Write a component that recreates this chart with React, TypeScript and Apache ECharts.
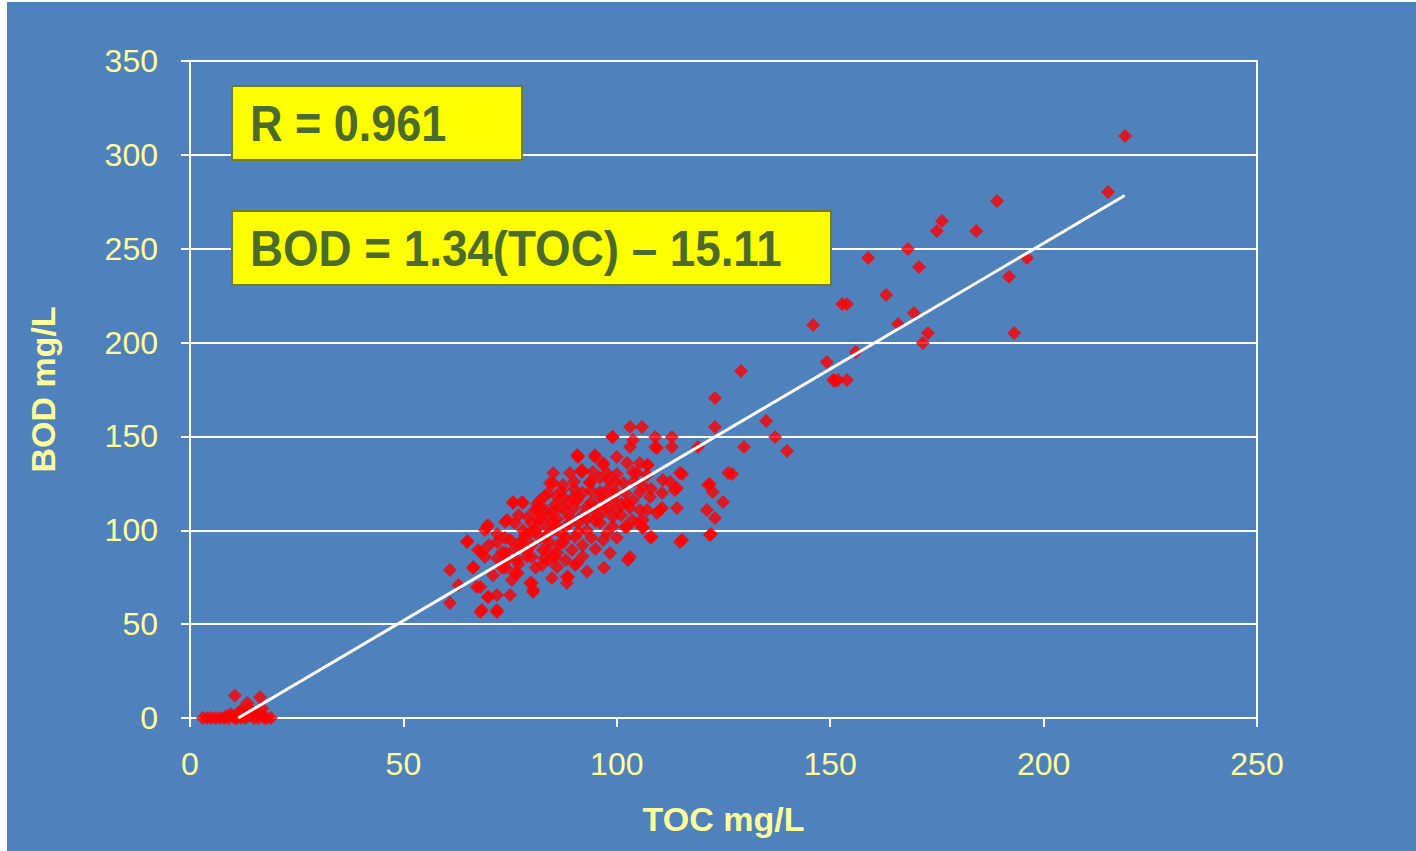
import React, { useEffect, useRef } from "react";
import * as echarts from "echarts";

const xTicks = [0, 50, 100, 150, 200, 250];
const yTicks = [0, 50, 100, 150, 200, 250, 300, 350];
const xAxisTitle = "TOC mg/L";
const yAxisTitle = "BOD mg/L";
const rText = "R = 0.961";
const eqText = "BOD = 1.34(TOC) – 15.11";
const slope = 1.34;
const intercept = -15.11;
const fitX = [11.3, 219];

// [TOC, BOD] pairs
const points: number[][] = [
  [3, 0], [4, 0], [5, 0], [6, 0], [7, 0], [8, 0], [8.5, 1], [9, 0], [9.5, 2], [10, 1], [10.5, 0], [11, 0],
  [11.5, 3], [12, 0], [12.5, 2], [13, 0], [13.4, 8], [14, 1], [14.5, 3], [15, 0], [15.5, 2], [16, 0],
  [16.9, 5], [17, 1], [17.5, 0], [18, 0], [19, 0], [10.5, 12], [16.4, 11], [14, 5], [12, 4],
  [60.9, 78.9], [60.9, 61.3], [62.9, 70.9], [65.0, 94.3], [66.4, 80.4], [67.2, 69.8], [68.0, 56.5],
  [71.9, 56.5], [69.9, 64.5], [71.9, 65.5], [75.0, 65.5], [68.4, 88.4], [69.1, 100.2], [69.8, 102.8],
  [71.9, 93.8], [73.1, 88.4], [74.3, 105.5], [75.7, 115.1], [77.8, 115.1], [74.3, 84.2], [76.8, 77.3],
  [75.4, 73.5], [79.7, 71.9], [80.4, 67.1], [78.0, 91.1], [79.7, 98.6], [81.3, 110.8], [82.0, 105.5],
  [83.6, 101.8], [82.7, 89.5], [84.3, 84.2], [86.0, 80.4], [85.1, 130.5], [84.3, 125.2], [86.7, 112.4],
  [89.0, 130.5], [90.7, 140.1], [91.8, 132.1], [89.0, 103.9], [87.4, 93.2], [88.3, 75.1], [90.7, 82.6],
  [93.7, 125.2], [94.9, 140.1], [96.8, 134.8], [93.0, 112.4], [95.4, 107.1], [96.8, 94.8], [98.4, 87.9],
  [99.1, 149.7], [100.0, 139.1], [102.4, 135.9], [103.1, 155.0], [105.9, 155.0], [103.8, 148.1],
  [109.0, 149.7], [112.9, 149.7], [109.0, 144.4], [112.9, 144.4], [101.5, 125.2], [104.7, 130.5],
  [107.1, 134.8], [100.0, 110.8], [103.8, 116.1], [105.0, 103.9], [106.1, 101.8], [102.4, 101.8],
  [102.6, 84.2], [103.1, 85.8], [108.2, 96.4], [107.1, 110.8], [110.1, 110.8], [112.5, 125.7],
  [113.6, 121.5], [114.8, 130.5], [114.1, 111.9], [115.3, 94.8], [110.8, 126.8], [119.0, 144.4],
  [121.4, 124.1], [122.5, 120.4], [124.9, 115.1], [121.1, 110.8], [123.0, 106.6], [121.8, 97.5],
  [123.0, 155.0], [126.1, 130.5], [129.1, 184.9], [123.0, 170.5], [129.8, 144.4], [135.0, 158.2],
  [137.1, 149.7], [139.9, 142.3], [149.2, 189.7], [151.1, 179.5], [127.0, 130.0], [121.8, 124.7],
  [122.1, 98.0], [115.3, 130.0],
  [219.1, 310.1], [215.1, 280.2], [189.1, 275.4], [176.2, 264.8], [175.0, 259.5], [184.2, 259.5],
  [168.2, 249.9], [158.9, 245.1], [170.8, 240.3], [196.1, 245.1], [191.9, 235.0], [163.1, 225.4],
  [152.8, 220.6], [153.9, 220.6], [146.0, 209.4], [169.6, 215.8], [165.9, 209.9], [172.9, 205.1],
  [171.7, 199.8], [193.1, 205.1], [156.0, 195.0], [150.7, 180.1], [151.8, 180.1], [153.9, 180.1],
  [98.9, 149.7], [109.4, 143.8], [103.1, 144.4], [90.9, 139.1], [94.9, 139.1], [96.8, 135.9],
  [105.4, 135.9], [107.3, 134.8], [91.8, 131.1], [94.4, 131.1], [97.7, 130.5], [103.8, 131.1],
  [107.1, 129.5], [93.7, 125.7], [99.6, 125.7], [114.1, 122.5], [87.4, 124.1], [96.1, 120.4],
  [105.4, 120.4], [110.6, 119.9], [107.8, 117.7], [90.7, 116.1], [99.1, 116.1], [102.4, 114.5],
  [94.4, 110.8], [105.4, 110.8], [110.6, 111.9], [109.4, 109.2], [103.6, 105.5], [106.1, 105.5],
  [99.1, 107.1], [96.1, 103.9], [101.9, 101.8], [106.1, 101.2], [97.7, 98.6], [107.8, 96.4],
  [114.8, 93.8], [64.9, 93.8], [69.6, 101.8], [67.5, 89.5], [66.3, 79.9], [68.0, 69.8], [69.8, 64.5],
  [68.4, 57.5], [71.9, 57.5], [73.8, 95.9], [69.1, 85.8], [75.7, 114.5], [78.0, 114.5], [73.8, 104.4],
  [76.1, 103.9], [76.1, 77.3], [76.6, 84.2], [73.1, 79.9], [78.5, 97.5], [80.1, 85.8], [80.1, 71.9],
  [80.4, 68.2], [82.5, 81.5], [83.9, 89.5], [84.8, 74.6], [88.6, 75.1], [88.3, 71.9], [90.2, 81.5],
  [85.5, 85.8], [80.8, 100.2], [83.2, 96.4], [86.2, 92.2], [89.5, 89.5], [80.8, 110.8], [83.2, 110.8],
  [85.5, 113.5], [88.6, 114.5], [79.2, 107.1], [85.1, 104.4], [87.9, 101.8], [90.2, 96.4], [90.9, 117.7],
  [90.9, 139.6], [91.8, 131.6], [85.1, 125.2], [81.3, 114.0], [87.4, 117.7], [89.7, 117.2],
  [82, 112], [84, 108], [86, 106], [88, 110], [90, 112], [92, 108], [94, 115], [96, 118], [98, 112],
  [100, 120], [85, 100], [87, 98], [91, 104], [93, 100], [95, 105], [97, 110], [78, 95], [80, 92],
  [82, 96], [76, 90], [74, 88], [72, 85], [77, 82], [79, 86], [81, 80], [83, 85], [86, 88], [88, 84],
  [92, 92], [94, 96], [99, 102], [101, 108], [103, 112], [98, 122], [96, 128], [92, 120], [90, 122],
  [86, 118], [84, 120], [82, 116], [80, 104], [78, 100], [92, 86], [95, 90], [100, 96], [97, 80],
  [93, 78], [77, 108], [72, 98], [70, 92], [75, 95],
  [83, 118], [85, 110], [89, 107], [91, 99], [93, 106], [95, 112], [97, 116], [99, 119], [101, 114],
  [81, 100], [79, 90], [77, 93], [84, 94], [88, 96], [86, 102], [82, 106], [100, 130], [98, 127],
  [104, 126], [106, 124], [102, 120], [108, 122], [94, 121], [90, 126], [87, 121], [74, 80], [71, 76],
];

const fitLine = fitX.map((x) => [x, +(slope * x + intercept).toFixed(2)]);

const BLUE = "#4f81bd";
const LABEL = "#ffff99";
const OLIVE = "#4b6b2a";
const FONT = "'Liberation Sans', Arial, sans-serif";

export default function App() {
  const ref = useRef<HTMLDivElement>(null);
  useEffect(() => {
    if (!ref.current) return;
    const chart = echarts.init(ref.current, undefined, { renderer: "svg" });
    const box = (x: number, y: number, w: number, h: number, text: string, sx: number) => ({
      type: "group",
      children: [
        {
          type: "rect",
          shape: { x, y, width: w, height: h },
          style: { fill: "#ffff00", stroke: "#6b7f2a", lineWidth: 2 },
          z: 10,
        },
        {
          type: "text",
          x: x + 18,
          y: y + h / 2 + 1,
          scaleX: sx,
          originX: 0,
          originY: 0,
          style: {
            text,
            fill: OLIVE,
            font: `bold 50px ${FONT}`,
            verticalAlign: "middle",
            align: "left",
          },
          z: 11,
        },
      ],
    });
    chart.setOption({
      animation: false,
      backgroundColor: BLUE,
      grid: {
        left: 183,
        top: 59,
        right: 159,
        bottom: 133,
        show: true,
        borderColor: "#ffffff",
        borderWidth: 2,
        backgroundColor: "transparent",
      },
      xAxis: {
        type: "value",
        min: xTicks[0],
        max: xTicks[xTicks.length - 1],
        interval: 50,
        name: xAxisTitle,
        nameLocation: "middle",
        nameGap: 84,
        nameTextStyle: { color: LABEL, fontSize: 34, fontWeight: "bold", fontFamily: FONT },
        axisLine: { show: true, lineStyle: { color: "#ffffff", width: 2 } },
        axisTick: { show: true, inside: false, length: 9, lineStyle: { color: "#ffffff", width: 2 } },
        axisLabel: { color: LABEL, fontSize: 32, fontFamily: FONT, margin: 30 },
        splitLine: { show: false },
      },
      yAxis: {
        type: "value",
        min: yTicks[0],
        max: yTicks[yTicks.length - 1],
        interval: 50,
        name: yAxisTitle,
        nameLocation: "middle",
        nameGap: 130,
        nameTextStyle: { color: LABEL, fontSize: 34, fontWeight: "bold", fontFamily: FONT },
        axisLine: { show: true, lineStyle: { color: "#ffffff", width: 2 } },
        axisTick: { show: true, inside: false, length: 9, lineStyle: { color: "#ffffff", width: 2 } },
        axisLabel: { color: LABEL, fontSize: 32, fontFamily: FONT, margin: 32 },
        splitLine: { show: true, lineStyle: { color: "#ffffff", width: 2 } },
      },
      series: [
        {
          type: "scatter",
          data: points,
          symbol: "diamond",
          symbolSize: 14,
          itemStyle: { color: "#ff0000" },
          z: 3,
        },
        {
          type: "line",
          data: fitLine,
          symbol: "none",
          lineStyle: { color: "#ffffff", width: 3 },
          z: 4,
        },
      ],
      graphic: [
        box(225, 84, 290, 74, rText, 0.9),
        box(225, 209, 599, 74, eqText, 0.915),
      ],
    });
    return () => chart.dispose();
  }, []);
  return (
    <div style={{ position: "fixed", left: 0, top: 0, width: 1416, height: 851, background: "#ffffff" }}>
      <div ref={ref} style={{ position: "absolute", left: 7, top: 2, width: 1409, height: 849 }} />
    </div>
  );
}
